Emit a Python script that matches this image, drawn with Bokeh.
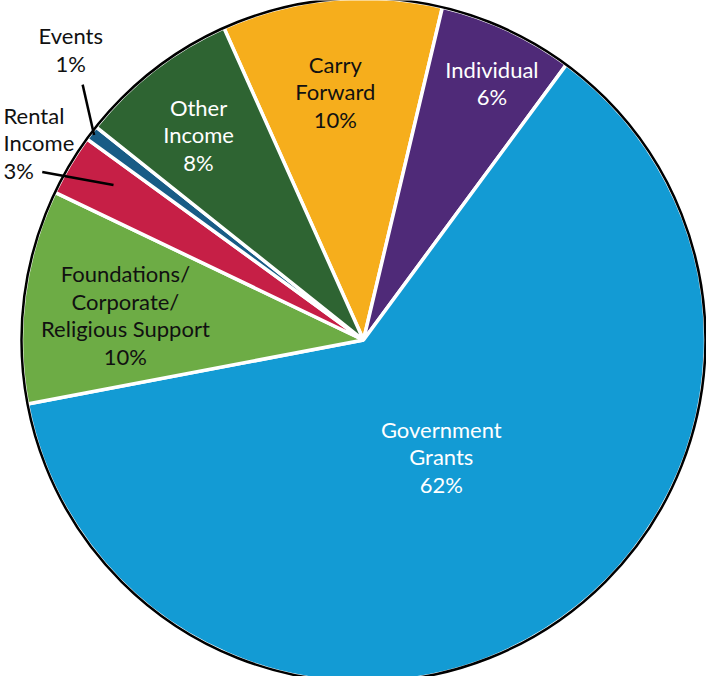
import math
from bokeh.plotting import figure
from bokeh.models import ColumnDataSource, Range1d
from bokeh.core.properties import value
from bokeh.embed import file_html
from bokeh.resources import INLINE

# ---- data (clockwise from the Carry Forward slice) ----
categories = ["Carry\nForward", "Individual", "Government\nGrants",
              "Foundations/\nCorporate/\nReligious Support", "Rental\nIncome",
              "Events", "Other\nIncome"]
shares = [10.4, 6.4, 61.9, 10.1, 2.9, 0.7, 7.6]
colors = ["#f6ae1c", "#4f2a78", "#139bd4", "#6dac45", "#c61f46", "#185c86", "#2e6432"]
text_colors = ["#111111", "#ffffff", "#ffffff", "#111111", "#111111", "#111111", "#ffffff"]

# ---- layout / style ----
W, H = 706, 676
CX, CY, R = 371, 692 - 347.5, 342
START = -24.1  # degrees, clockwise from 12 o'clock
label_r = [0.73, 0.84, 0.41, 0.70, 1.20, 1.206, 0.77]
label_nudge = [-1.1, 1.7, -1.5, -1.4, -2.1, 7.5, -1.0]
label_align = ["center", "center", "center", "center", "left", "center", "center"]
# leader lines: (r0, da0, r1, da1) relative to slice mid-angle
leaders = {4: (0.86, 1.0, 1.06, -3.2), 5: (0.99, 0.0, 1.11, 5.0)}

total = sum(shares)
starts, ends, mids = [], [], []
a = START
for s in shares:
    span = s / total * 360.0
    starts.append(a)
    ends.append(a + span)
    mids.append(a + span / 2)
    a += span

def to_bokeh(theta_deg):
    return math.radians(90.0 - theta_deg)

def polar(r_frac, theta_deg):
    t = math.radians(theta_deg)
    return CX + r_frac * R * math.sin(t), CY + r_frac * R * math.cos(t)

wedge_src = ColumnDataSource(dict(
    start=[to_bokeh(e) for e in ends],
    end=[to_bokeh(s) for s in starts],
    color=colors,
))

lx, ly, ltext = [], [], []
for i, (c, s) in enumerate(zip(categories, shares)):
    x, y = polar(label_r[i], mids[i] + label_nudge[i])
    lx.append(x)
    ly.append(y)
    ltext.append(f"{c}\n{round(s)}%")
label_src = ColumnDataSource(dict(x=lx, y=ly, text=ltext, color=text_colors, align=label_align))

p = figure(width=W, height=H, output_backend="svg", toolbar_location=None,
           x_range=Range1d(8, 8 + W), y_range=Range1d(8, 8 + H),
           min_border=0, outline_line_color=None)
p.axis.visible = False
p.grid.visible = False
p.background_fill_color = "white"
p.border_fill_color = "white"

p.wedge(x=CX, y=CY, radius=R, start_angle="start", end_angle="end",
        fill_color="color", line_color="white", line_width=3.5, source=wedge_src)
p.circle(x=[CX], y=[CY], radius=R, fill_color=None, line_color="black", line_width=2.5)

for i, (r0, d0, r1, d1) in leaders.items():
    x0, y0 = polar(r0, mids[i] + d0)
    x1, y1 = polar(r1, mids[i] + d1)
    p.line([x0, x1], [y0, y1], line_color="black", line_width=2.5)

p.text(x="x", y="y", text="text", source=label_src, text_align="align",
       text_baseline="middle", text_color="color", text_font=value("Lato"),
       text_font_size="22px", text_line_height=1.02)

open("out.html", "w").write(file_html(p, INLINE))
